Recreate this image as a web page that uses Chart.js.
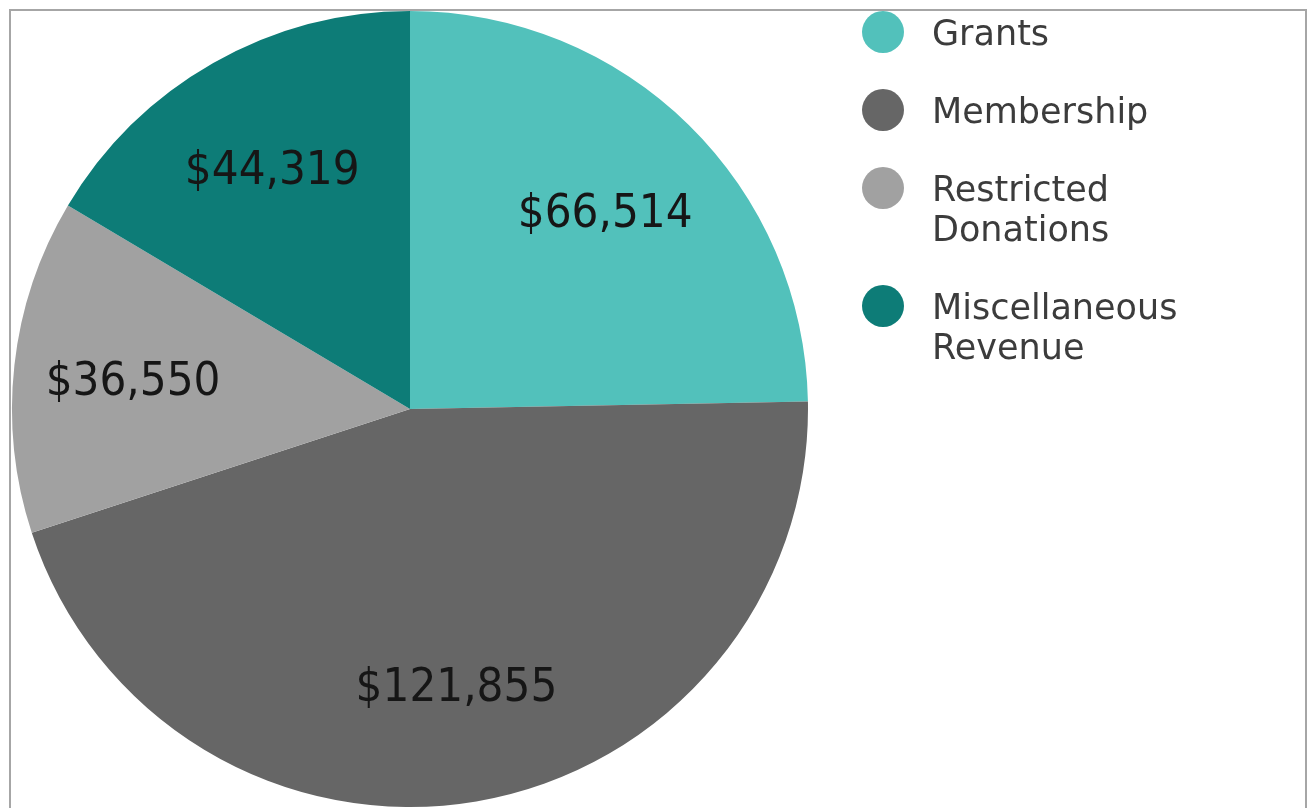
<!DOCTYPE html>
<html>
<head>
<meta charset="utf-8">
<script src="https://cdn.jsdelivr.net/npm/chart.js@4.4.1/dist/chart.umd.min.js"></script>
<style>
  html, body { margin: 0; padding: 0; background: #fff; overflow: hidden; }
  #frame { position: absolute; left: 9px; top: 9px; width: 1294px; height: 830px; border: 2px solid #a6a6a6; }
  #wrap { position: absolute; left: 0; top: 0; width: 1313px; height: 808px; }
</style>
</head>
<body>
<div id="frame"></div>
<div id="wrap"><canvas id="pieChart"></canvas></div>
<script>
const categories = ['Grants', 'Membership', 'Restricted Donations', 'Miscellaneous Revenue'];
const revenue = [66514, 121855, 36550, 44319];
const sliceColors = ['#52c1bb', '#666666', '#a1a1a1', '#0d7c77'];

const labelFont = '"DejaVu Sans Condensed", "DejaVu Sans", Tahoma, sans-serif';
const legendFont = '"DejaVu Sans", Tahoma, sans-serif';

// value labels inside each slice
const sliceLabels = {
  id: 'sliceLabels',
  afterDatasetsDraw(chart) {
    const ctx = chart.ctx;
    const meta = chart.getDatasetMeta(0);
    ctx.save();
    ctx.font = '47px ' + labelFont;
    ctx.fillStyle = '#161616';
    ctx.textAlign = 'center';
    ctx.textBaseline = 'alphabetic';
    meta.data.forEach((arc, i) => {
      const p = arc.getProps(['x', 'y', 'startAngle', 'endAngle', 'outerRadius'], true);
      const mid = (p.startAngle + p.endAngle) / 2;
      const r = p.outerRadius * 0.7;
      const v = chart.data.datasets[0].data[i];
      // baseline sits half a digit height below the label centre
      ctx.fillText('$' + v.toLocaleString('en-US'), p.x + Math.cos(mid) * r, p.y + Math.sin(mid) * r + 17);
    });
    ctx.restore();
  }
};

// legend on the right, dots + wrapped text
const sideLegend = {
  id: 'sideLegend',
  afterDraw(chart) {
    const ctx = chart.ctx;
    const colors = chart.data.datasets[0].backgroundColor;
    const left = 862, lineH = 40, gap = 38;
    let y = 32;
    ctx.save();
    ctx.font = '35px ' + legendFont;
    ctx.textBaseline = 'alphabetic';
    chart.data.labels.forEach((label, i) => {
      const words = label.split(' ');
      const lines = [];
      let cur = '';
      words.forEach(w => {
        const t = cur ? cur + ' ' + w : w;
        if (cur && ctx.measureText(t).width > 260) { lines.push(cur); cur = w; } else { cur = t; }
      });
      lines.push(cur);
      ctx.fillStyle = colors[i];
      ctx.beginPath();
      ctx.arc(left + 21, y, 21, 0, Math.PI * 2);
      ctx.fill();
      ctx.fillStyle = '#3c3c3c';
      lines.forEach((ln, k) => ctx.fillText(ln, 932, y + 13 + k * lineH));
      y += lines.length * lineH + gap;
    });
    ctx.restore();
  }
};

const pieData = {
  labels: categories,
  datasets: [{
    label: 'Revenue',
    data: revenue,
    backgroundColor: sliceColors,
    borderWidth: 0
  }]
};

const pieConfig = {
  type: 'pie',
  data: pieData,
  options: {
    responsive: true,
    maintainAspectRatio: false,
    animation: false,
    layout: { padding: { left: 12, top: 11, right: 505, bottom: 1 } },
    plugins: {
      legend: { display: false },
      tooltip: { enabled: false }
    }
  },
  plugins: [sliceLabels, sideLegend]
};

new Chart(document.getElementById('pieChart'), pieConfig);
</script>
</body>
</html>
